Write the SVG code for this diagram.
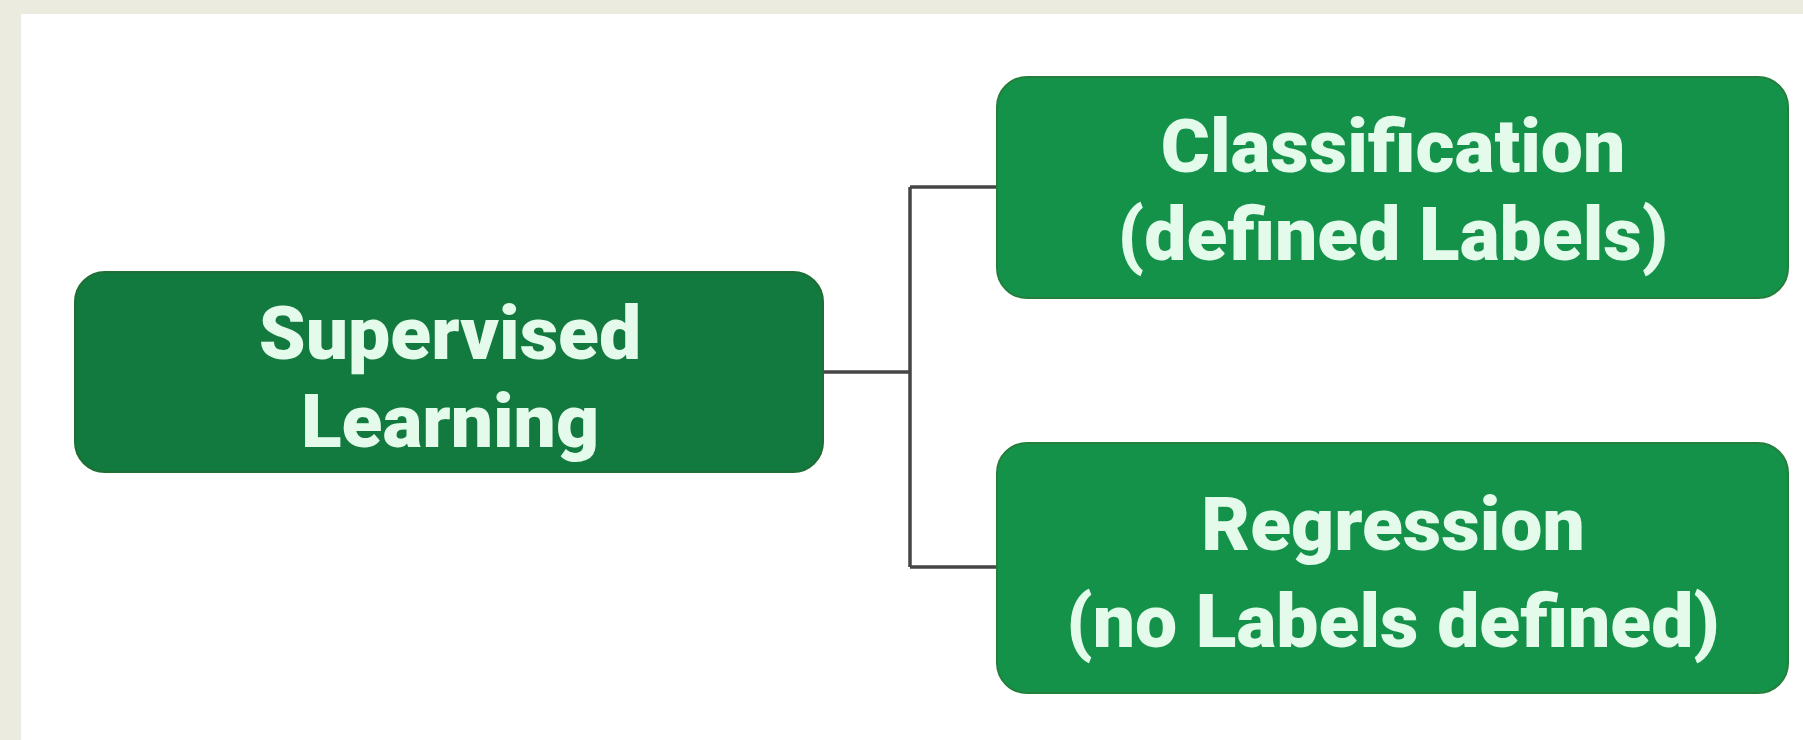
<svg xmlns="http://www.w3.org/2000/svg" width="1803" height="740" viewBox="0 0 1803 740">
<style>
.t{font-family:Roboto,"Liberation Sans",sans-serif;font-weight:900;font-size:75px;fill:#e4fbec;text-anchor:middle}
.dark{fill:#127a3e;stroke:#1f6e35;stroke-width:2}
.light{fill:#15924a;stroke:#247f3c;stroke-width:2}
.c{stroke:#454545;stroke-width:3.5;fill:none}
</style>
<rect x="0" y="0" width="1803" height="740" fill="#ecebe0"/>
<rect x="21" y="14" width="1782" height="726" fill="#ffffff"/>
<g id="connectors">
<path class="c" d="M823 372 H910 M910 187 V567 M910 187 H998 M910 567 H998"/>
</g>
<g id="supervised">
<rect class="dark" x="75" y="272" width="748" height="200" rx="30"/>
<text class="t" x="450" y="359">Supervised</text>
<text class="t" x="450" y="447">Learning</text>
</g>
<g id="classification">
<rect class="light" x="997" y="77" width="791" height="221" rx="30"/>
<text class="t" x="1393" y="172">Classification</text>
<text class="t" x="1393" y="260">(defined Labels)</text>
</g>
<g id="regression">
<rect class="light" x="997" y="443" width="791" height="250" rx="30"/>
<text class="t" x="1393" y="550">Regression</text>
<text class="t" x="1393" y="647">(no Labels defined)</text>
</g>
</svg>
